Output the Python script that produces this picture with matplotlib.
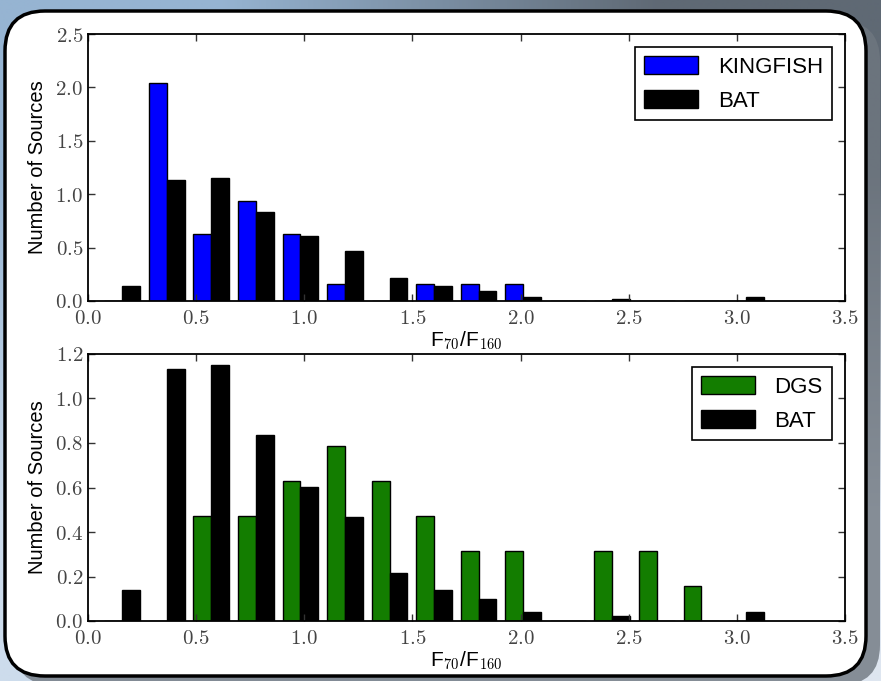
import numpy as np
import matplotlib.pyplot as plt
from matplotlib.patches import FancyBboxPatch
from matplotlib.ticker import FuncFormatter, MultipleLocator

plt.rcParams['font.family'] = ['Liberation Sans', 'DejaVu Sans']
plt.rcParams['mathtext.fontset'] = 'cm'

# histogram bins (F70/F160), 15 bins
bin_lo = 0.055
bin_hi = 3.145
n_bins = 15

# normalised histogram heights
kingfish = [0.0, 2.04, 0.63, 0.94, 0.63, 0.16, 0.0, 0.16, 0.16, 0.16, 0.0, 0.0, 0.0, 0.0, 0.0]
dgs = [0.0, 0.0, 0.47, 0.47, 0.63, 0.785, 0.63, 0.47, 0.315, 0.315, 0.0, 0.315, 0.315, 0.157, 0.0]
bat = [0.139, 1.131, 1.149, 0.836, 0.604, 0.467, 0.214, 0.139, 0.097, 0.039, 0.0, 0.022, 0.0, 0.0, 0.039]

edges = np.linspace(bin_lo, bin_hi, n_bins + 1)
centers = 0.5 * (edges[:-1] + edges[1:])

W, H = 881, 681
fig = plt.figure(figsize=(W / 100, H / 100), dpi=100)

# slide background + rounded panel
bg = fig.add_axes([0, 0, 1, 1], zorder=-5)
bg.set_xlim(0, W)
bg.set_ylim(0, H)
bg.axis('off')
grad = np.array([[[205, 220, 236], [222, 230, 240]],
                 [[150, 180, 210], [95, 105, 116]]]) / 255.0
bg.imshow(grad, extent=[0, W, H, 0], aspect='auto', interpolation='bilinear', origin='upper')
bg.set_ylim(0, H)
shadow = FancyBboxPatch((14, -4), 866, 664, boxstyle="round,pad=0,rounding_size=40",
                        fc='#6f7780', ec='none', alpha=0.8)
bg.add_patch(shadow)
panel = FancyBboxPatch((5, 5), 861, 665, boxstyle="round,pad=0,rounding_size=40",
                       fc='white', ec='black', lw=2.5)
bg.add_patch(panel)

fmt = FuncFormatter(lambda v, p: '$%.1f$' % v)


def style(ax, ymax, ystep):
    ax.set_xlim(0, 3.5)
    ax.set_ylim(0, ymax)
    ax.xaxis.set_major_locator(MultipleLocator(0.5))
    ax.yaxis.set_major_locator(MultipleLocator(ystep))
    ax.xaxis.set_major_formatter(fmt)
    ax.yaxis.set_major_formatter(fmt)
    ax.tick_params(direction='in', top=True, right=True, length=5, width=1,
                   labelsize=15, colors='#333333', labelcolor='#444444')
    ax.tick_params(axis='x', pad=6)
    for s in ax.spines.values():
        s.set_linewidth(1.3)
    ax.set_xlabel(r'F$_{70}$/F$_{160}$', fontsize=15, labelpad=1)
    ax.set_ylabel('Number of Sources', fontsize=14.5, labelpad=6)


ax1 = fig.add_axes([88 / W, 1 - 301 / H, 757 / W, 267 / H])
ax1.hist([centers, centers], bins=edges, weights=[kingfish, bat],
         color=['#0000ff', 'black'], edgecolor='black', linewidth=1,
         label=['KINGFISH', 'BAT'])
style(ax1, 2.5, 0.5)

ax2 = fig.add_axes([88 / W, 1 - 621 / H, 757 / W, 267 / H])
ax2.hist([centers, centers], bins=edges, weights=[dgs, bat],
         color=['#137d00', 'black'], edgecolor='black', linewidth=1,
         label=['DGS', 'BAT'])
style(ax2, 1.2, 0.2)

for ax in (ax1, ax2):
    leg = ax.legend(loc='upper right', fontsize=16, fancybox=False, framealpha=1,
                    edgecolor='black', handlelength=2.4, handleheight=0.85,
                    handletextpad=0.9, labelspacing=0.55, borderaxespad=0.6)
    leg.get_frame().set_linewidth(1.2)

fig.savefig('out.png', dpi=100)
